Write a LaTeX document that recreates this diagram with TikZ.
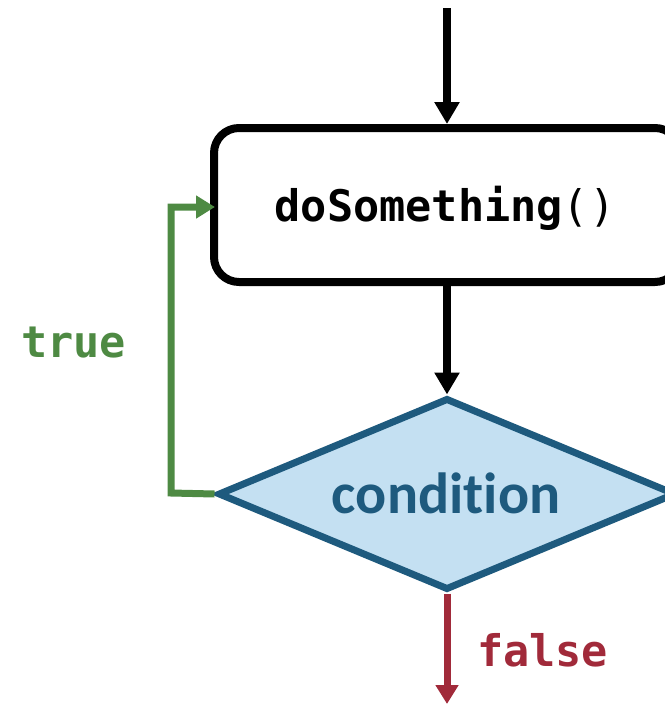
\documentclass[tikz,border=0pt]{standalone}
\usepackage{fontspec}
\setmainfont{Carlito}[Ligatures=NoCommon]
\setmonofont{DejaVu Sans Mono}
\usetikzlibrary{arrows.meta,shapes.geometric}
\definecolor{dfill}{HTML}{C4E0F2}
\definecolor{dstroke}{HTML}{1E5A7E}
\definecolor{tgreen}{HTML}{4E8A43}
\definecolor{fred}{HTML}{A12A3A}
\tikzset{
  flow/.style={line width=7.5pt,-{Triangle[length=22pt,width=24pt]}},
  codebox/.style={draw,line width=8pt,rounded corners=25pt,minimum width=466pt,minimum height=154pt,inner sep=0pt},
  cond/.style={diamond,draw=dstroke,fill=dfill,line width=7pt,inner sep=0pt,text=dstroke},
  lbl/.style={inner sep=0pt,font=\ttfamily\bfseries\fontsize{43.5}{48}\selectfont}
}
\begin{document}
\begin{tikzpicture}[x=1pt,y=-1pt]
\useasboundingbox (0,0) rectangle (664,704);
\node[codebox] (box) at (447,205) {};
\node[lbl,anchor=center] (txt) at (445,208) {doSomething\mdseries()};
\node[cond,minimum width=458pt,minimum height=192pt,shape aspect=2.385] (dia) at (447,494) {};
\node[inner sep=0pt,font=\bfseries\fontsize{58}{62}\selectfont,text=dstroke] (ctext) at (446,493) {condition};
\coordinate (start) at (447,8);
\coordinate (endpt) at (447,704);
\coordinate (c1) at (171,493);
\coordinate (c2) at (171,207);
\coordinate (boxin) at (215,207);
\node[lbl,text=tgreen,anchor=west] (tlab) at (21,343) {true};
\node[lbl,text=fred,anchor=west] (flab) at (477,650) {false};
\draw[flow] (start) -- (box.north);
\draw[flow] (box.south) -- (dia.north);
\draw[flow,tgreen,line width=7pt,-{Triangle[length=19pt,width=22pt]},line join=miter] (dia.west) -- (c1) -- (c2) -- (boxin);
\draw[flow,fred,line width=7pt,-{Triangle[length=19pt,width=22pt]}] (dia.south) -- (endpt);
\end{tikzpicture}
\end{document}
